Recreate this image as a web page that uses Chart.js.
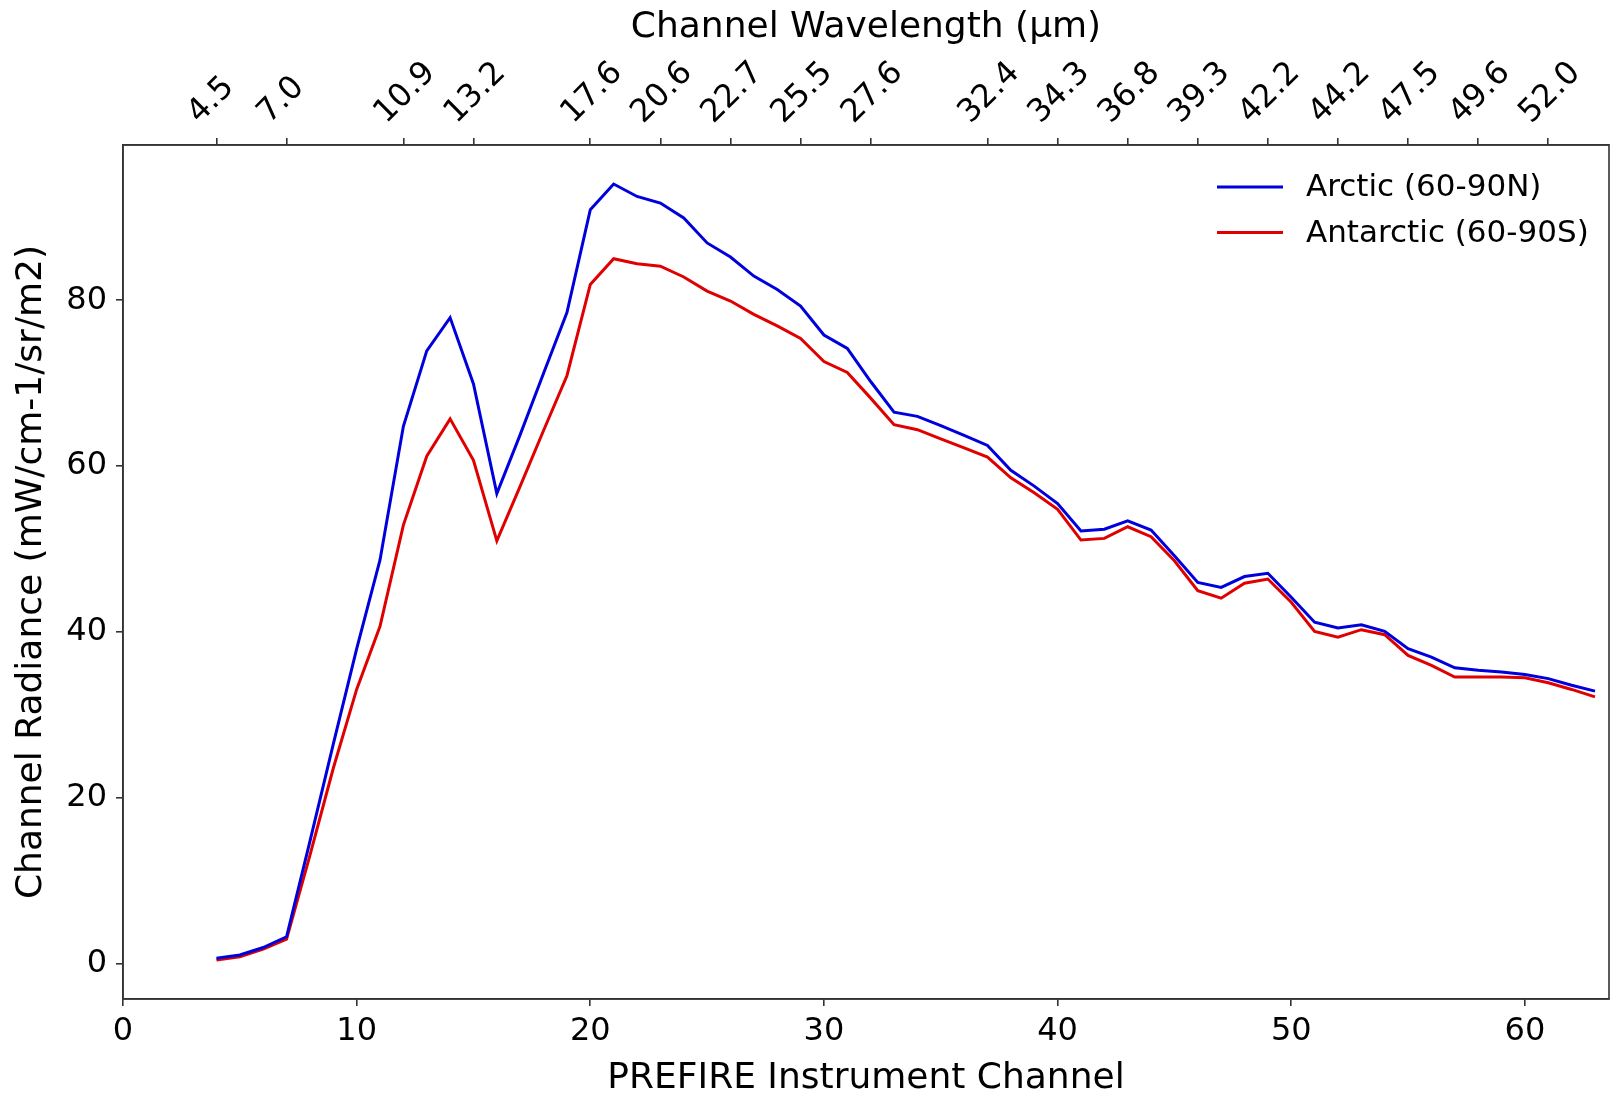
<!DOCTYPE html>
<html>
<head>
<meta charset="utf-8">
<script src="https://cdn.jsdelivr.net/npm/chart.js@4.4.1/dist/chart.umd.min.js"></script>
<style>
  html, body { margin: 0; padding: 0; background: #ffffff; }
  #wrap { width: 1613px; height: 1093px; }
</style>
</head>
<body>
<div id="wrap"><canvas id="c" width="1613" height="1093"></canvas></div>
<script>
// ---- data ----
const channels = [4,5,6,7,8,9,10,11,12,13,14,15,16,17,18,19,20,21,22,23,24,25,26,27,28,29,30,31,32,33,34,35,36,37,38,39,40,41,42,43,44,45,46,47,48,49,50,51,52,53,54,55,56,57,58,59,60,61,62,63];
const arctic = [0.7,1.1,2.0,3.3,14.8,26.5,38.0,48.7,64.8,73.9,77.9,69.9,56.7,63.8,71.2,78.5,90.9,94.0,92.5,91.7,89.9,86.9,85.2,82.9,81.3,79.3,75.8,74.2,70.2,66.5,66.0,64.9,63.7,62.5,59.5,57.6,55.5,52.2,52.4,53.4,52.3,49.2,46.0,45.4,46.7,47.1,44.2,41.2,40.5,40.9,40.1,38.0,37.0,35.7,35.4,35.2,34.9,34.4,33.6,32.9];
const antarctic = [0.5,0.9,1.8,3.0,13.1,23.6,33.1,40.7,52.9,61.2,65.7,60.7,51.0,57.6,64.3,70.9,81.9,85.0,84.4,84.1,82.8,81.1,79.9,78.3,76.9,75.4,72.6,71.3,68.2,65.0,64.4,63.3,62.2,61.1,58.6,56.8,54.8,51.1,51.3,52.7,51.5,48.6,45.0,44.1,45.9,46.4,43.6,40.1,39.4,40.3,39.7,37.2,36.0,34.6,34.6,34.6,34.5,33.9,33.1,32.2];
const seriesNames = ['Arctic (60-90N)', 'Antarctic (60-90S)'];
const xTicks = [0,10,20,30,40,50,60];
const yTicks = [0,20,40,60,80];
const wlChannels = [4,7,12,15,20,23,26,29,32,37,40,43,46,49,52,55,58,61];
const wlLabels = ['4.5','7.0','10.9','13.2','17.6','20.6','22.7','25.5','27.6','32.4','34.3','36.8','39.3','42.2','44.2','47.5','49.6','52.0'];
const xRange = [0, 63.6];
const yRange = [-4.2, 98.7];

// ---- chart ----
const FONT = "'DejaVu Sans', 'Liberation Sans', sans-serif";
const AX = '#333333';
const TICK_SIZE = 32;
const TITLE_SIZE = 36;
const LEGEND_SIZE = 31;

const frame = {
  id: 'frame',
  afterDatasetsDraw(chart) {
    const a = chart.chartArea, ctx = chart.ctx;
    ctx.save();
    ctx.strokeStyle = AX; ctx.lineWidth = 1.6;
    ctx.strokeRect(a.left, a.top, a.right - a.left, a.bottom - a.top);
    ctx.restore();
  }
};

// legend drawn inside the upper-right corner of the plot area
const insideLegend = {
  id: 'insideLegend',
  afterDraw(chart) {
    const a = chart.chartArea, ctx = chart.ctx;
    ctx.save();
    ctx.font = LEGEND_SIZE + 'px ' + FONT;
    ctx.textBaseline = 'middle';
    ctx.textAlign = 'left';
    chart.data.datasets.forEach((ds, i) => {
      const y = a.top + 42 + i * 45.5;
      const x0 = a.right - 392;
      ctx.strokeStyle = ds.borderColor;
      ctx.lineWidth = 3;
      ctx.beginPath(); ctx.moveTo(x0, y); ctx.lineTo(x0 + 66, y); ctx.stroke();
      ctx.fillStyle = '#000';
      ctx.fillText(ds.label, x0 + 89, y + 1);
    });
    ctx.restore();
  }
};

new Chart(document.getElementById('c'), {
  type: 'line',
  data: {
    datasets: [
      { label: seriesNames[0], data: channels.map((c, i) => ({x: c, y: arctic[i]})),
        borderColor: '#0000dd', backgroundColor: '#0000dd', borderWidth: 3, pointRadius: 0, tension: 0 },
      { label: seriesNames[1], data: channels.map((c, i) => ({x: c, y: antarctic[i]})),
        borderColor: '#e00000', backgroundColor: '#e00000', borderWidth: 3, pointRadius: 0, tension: 0 }
    ]
  },
  options: {
    responsive: false,
    animation: false,
    devicePixelRatio: 1,
    layout: { padding: { left: 0, right: 4, top: 0, bottom: 0 } },
    plugins: {
      legend: { display: false },
      tooltip: { enabled: false }
    },
    scales: {
      x: {
        type: 'linear', position: 'bottom', min: xRange[0], max: xRange[1],
        afterBuildTicks: s => { s.ticks = xTicks.map(v => ({value: v})); },
        afterFit: s => { s.height = 94; },
        ticks: { color: '#000', font: { family: FONT, size: TICK_SIZE }, padding: 6, maxRotation: 0 },
        grid: { drawOnChartArea: false, drawTicks: true, tickLength: 7, color: AX, lineWidth: 1.6 },
        border: { display: true, color: AX, width: 1.6 },
        title: { display: true, text: 'PREFIRE Instrument Channel', color: '#000',
                 font: { family: FONT, size: TITLE_SIZE, lineHeight: 0.8 }, padding: { top: 0, bottom: 0 } }
      },
      x2: {
        type: 'linear', position: 'top', min: xRange[0], max: xRange[1],
        afterBuildTicks: s => { s.ticks = wlChannels.map(v => ({value: v})); },
        afterFit: s => { s.height = 145; },
        ticks: {
          color: '#000', font: { family: FONT, size: TICK_SIZE }, padding: 6, minRotation: 45, maxRotation: 45,
          autoSkip: false, labelOffset: 4,
          callback: (v) => { const i = wlChannels.indexOf(v); return i >= 0 ? wlLabels[i] : ''; }
        },
        grid: { drawOnChartArea: false, drawTicks: true, tickLength: 7, color: AX, lineWidth: 1.6 },
        border: { display: true, color: AX, width: 1.6 },
        title: { display: true, text: 'Channel Wavelength (\u03bcm)', color: '#000',
                 font: { family: FONT, size: TITLE_SIZE, lineHeight: 1 }, padding: { top: 10, bottom: 0 } }
      },
      y: {
        type: 'linear', position: 'left', min: yRange[0], max: yRange[1],
        afterBuildTicks: s => { s.ticks = yTicks.map(v => ({value: v})); },
        afterFit: s => { s.width = 123; },
        ticks: { color: '#000', font: { family: FONT, size: TICK_SIZE }, padding: 9 },
        grid: { drawOnChartArea: false, drawTicks: true, tickLength: 7, color: AX, lineWidth: 1.6 },
        border: { display: true, color: AX, width: 1.6 },
        title: { display: true, text: 'Channel Radiance (mW/cm-1/sr/m2)', color: '#000',
                 font: { family: FONT, size: TITLE_SIZE, lineHeight: 1 }, padding: { top: 14, bottom: 0 } }
      }
    }
  },
  plugins: [frame, insideLegend]
});
</script>
</body>
</html>
